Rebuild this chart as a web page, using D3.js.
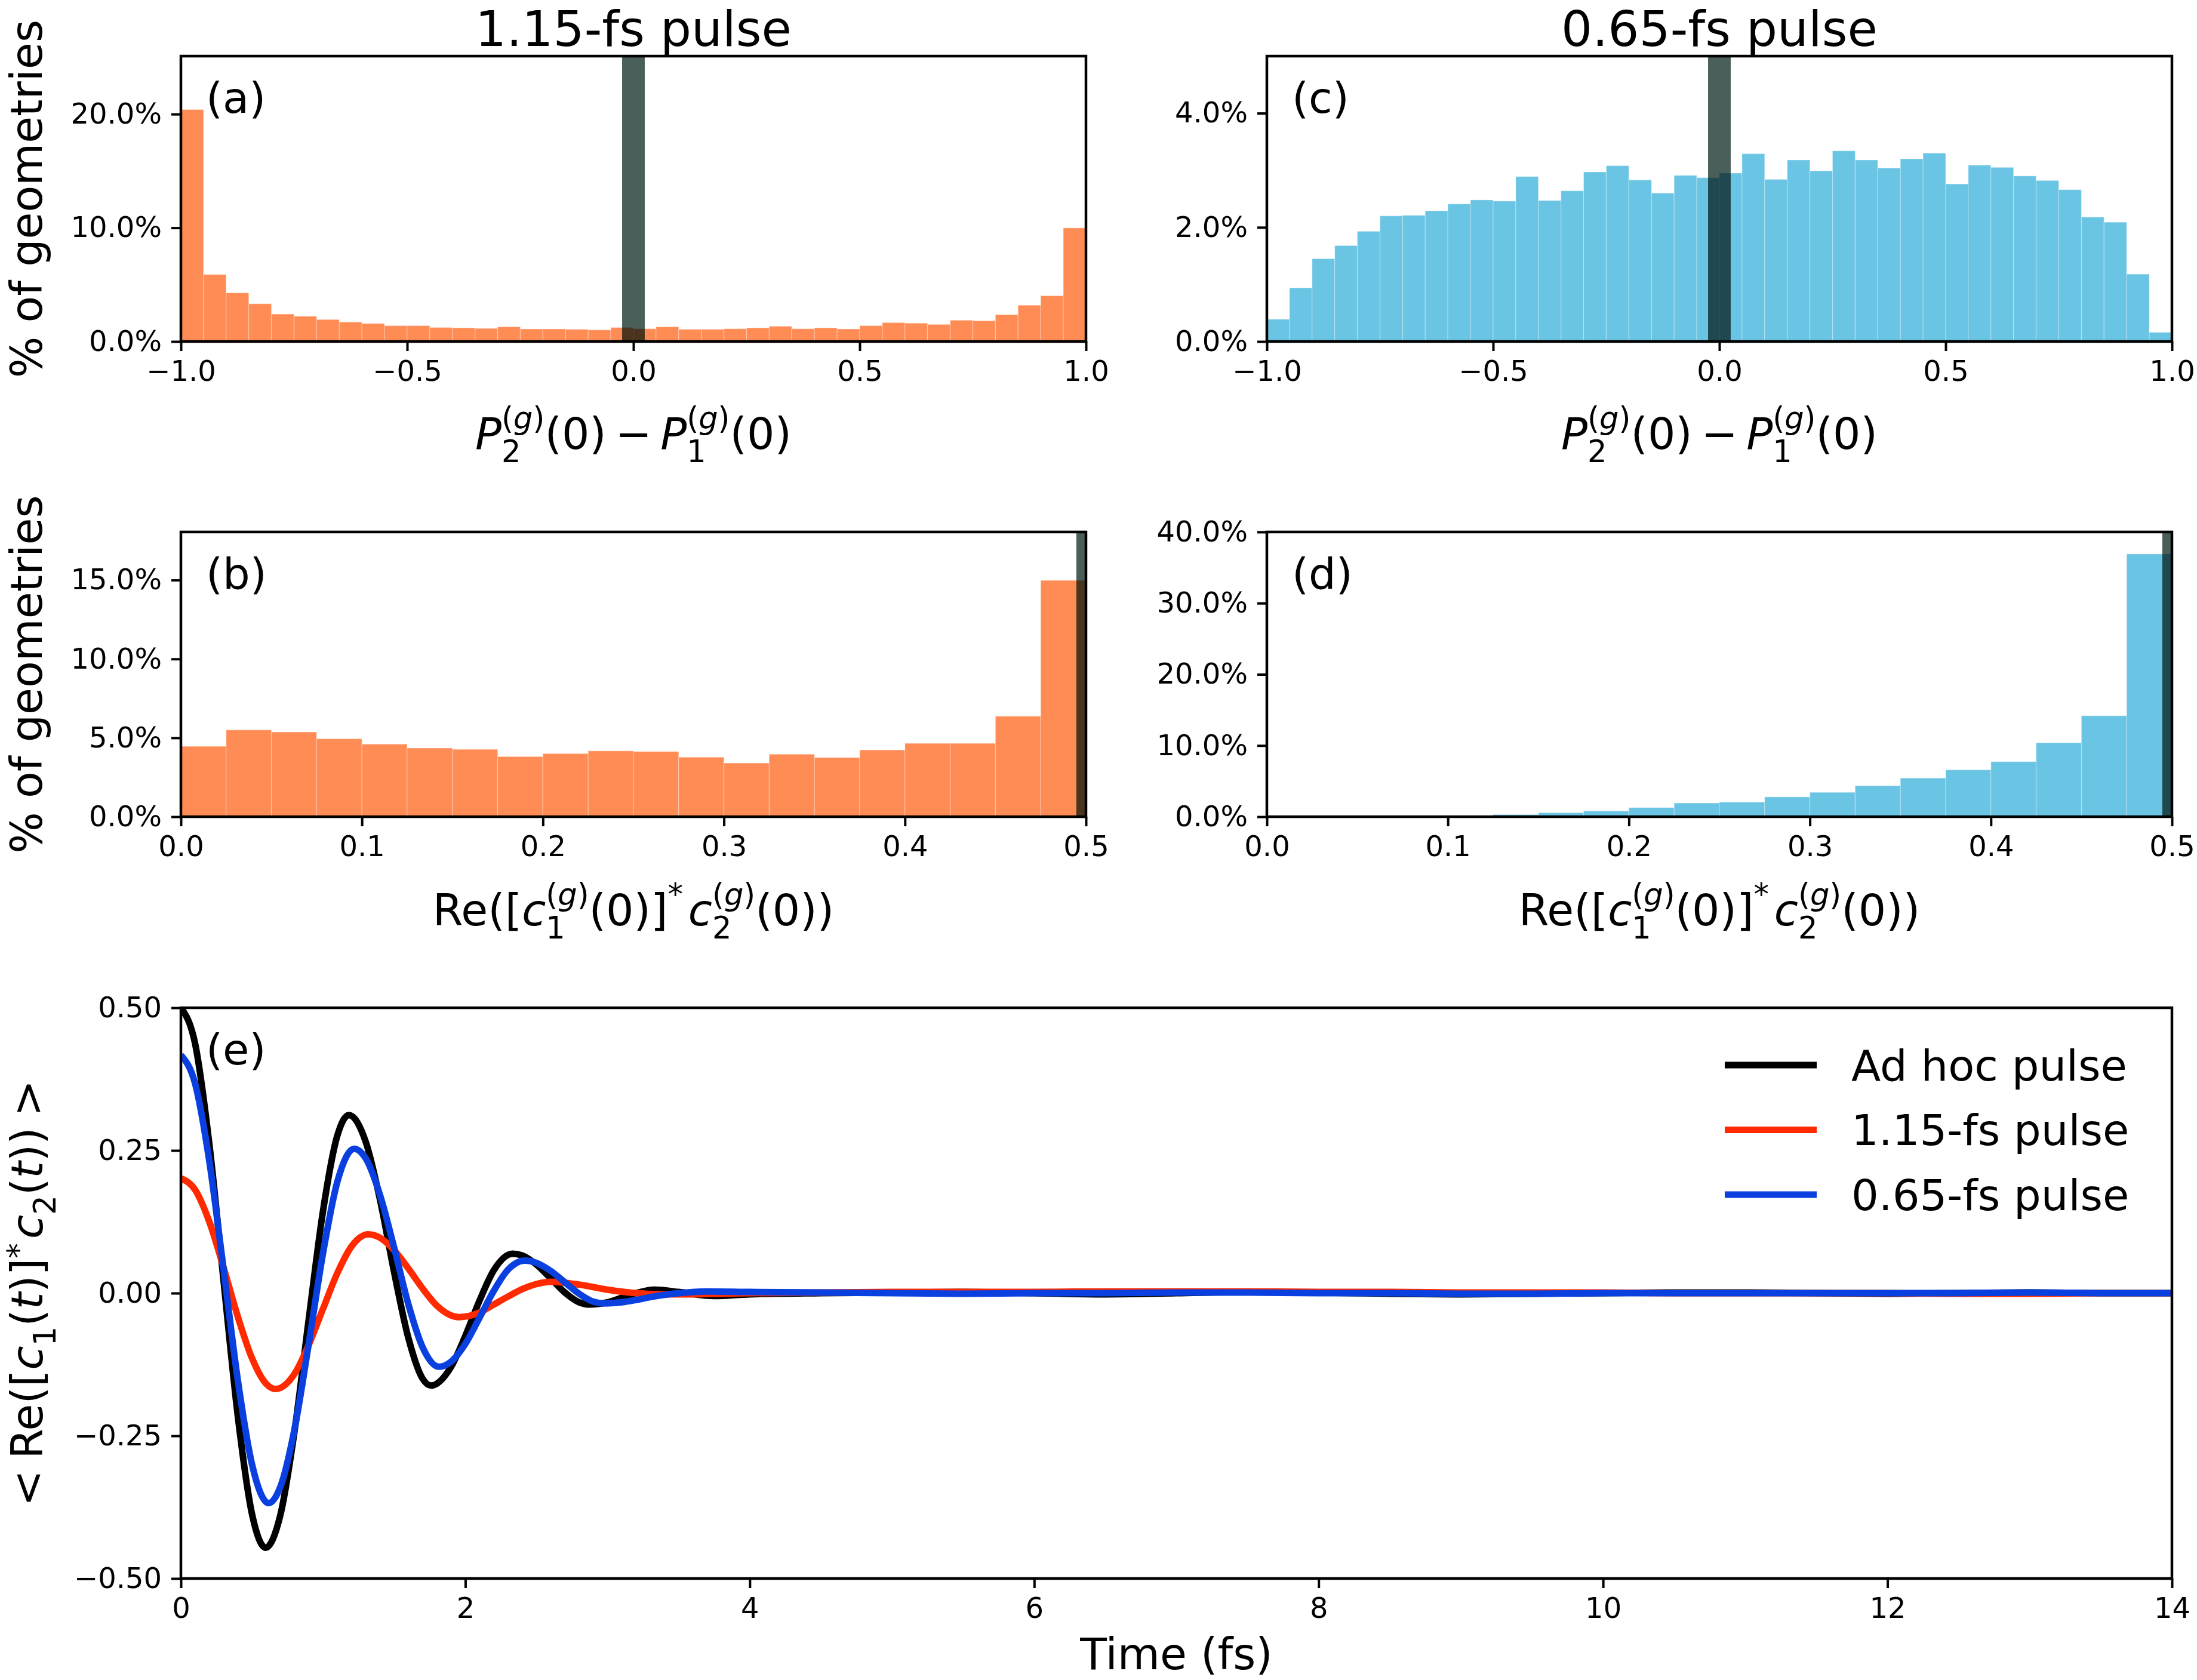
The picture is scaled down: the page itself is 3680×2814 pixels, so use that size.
<!DOCTYPE html>
<meta charset='utf-8'>
<style>
    body { margin: 0; background: #fff; }
    text { font-family: 'DejaVu Sans', sans-serif; fill: #000; }
</style>
<body>
<script src='https://d3js.org/d3.v7.min.js'></script>
<script>
var width = 3680,
    height = 2814;

// histogram values, % of geometries per bin
// (a) 1.15-fs pulse, P2 - P1, 40 bins on [-1, 1]
var popShort = [20.4, 5.89, 4.28, 3.32, 2.41, 2.22, 1.93, 1.71, 1.58, 1.39,
                1.39, 1.23, 1.20, 1.15, 1.29, 1.10, 1.10, 1.07, 1.02, 1.23,
                1.12, 1.29, 1.07, 1.07, 1.12, 1.20, 1.34, 1.12, 1.20, 1.10,
                1.39, 1.66, 1.61, 1.50, 1.87, 1.82, 2.36, 3.19, 4.02, 9.99];
// (c) 0.65-fs pulse, P2 - P1
var popLong = [0.39, 0.94, 1.45, 1.68, 1.93, 2.20, 2.21, 2.29, 2.41, 2.48,
               2.46, 2.89, 2.47, 2.64, 2.97, 3.08, 2.83, 2.60, 2.91, 2.87,
               2.95, 3.29, 2.84, 3.18, 2.99, 3.34, 3.18, 3.04, 3.20, 3.30,
               2.76, 3.09, 3.05, 2.90, 2.82, 2.66, 2.18, 2.09, 1.18, 0.16];
// (b) 1.15-fs pulse, Re(c1* c2), 20 bins on [0, 0.5]
var cohShort = [4.46, 5.50, 5.37, 4.94, 4.60, 4.35, 4.27, 3.81, 4.00, 4.17,
                4.13, 3.77, 3.40, 3.96, 3.75, 4.23, 4.65, 4.65, 6.37, 14.98];
// (d) 0.65-fs pulse, Re(c1* c2)
var cohLong = [0, 0, 0, 0.02, 0.17, 0.30, 0.56, 0.81, 1.28, 1.92,
               2.05, 2.78, 3.42, 4.36, 5.43, 6.58, 7.74, 10.38, 14.19, 36.9];

// ad hoc value marked by the dark band
var bandPop = [-0.025, 0.025];
var bandCoh = [0.4947, 0.5];

var popTicks = [-1.0, -0.5, 0.0, 0.5, 1.0];
var cohTicks = [0.0, 0.1, 0.2, 0.3, 0.4, 0.5];
var yTicksA = [0, 10, 20];
var yTicksC = [0, 2, 4];
var yTicksB = [0, 5, 10, 15];
var yTicksD = [0, 10, 20, 30, 40];

// (e) <Re([c1(t)]* c2(t))> vs time (fs), [t, value]
var adHocPulse = [[0, 0.500], [0.1, 0.437], [0.2, 0.261], [0.3, 0.022], [0.4, -0.215],
    [0.5, -0.387], [0.596, -0.446], [0.7, -0.388], [0.8, -0.240], [0.9, -0.044],
    [1.0, 0.145], [1.1, 0.276], [1.181, 0.312], [1.3, 0.265], [1.4, 0.164],
    [1.5, 0.036], [1.6, -0.079], [1.7, -0.150], [1.758, -0.162], [1.9, -0.129],
    [2.0, -0.075], [2.1, -0.013], [2.2, 0.040], [2.332, 0.069], [2.4, 0.066],
    [2.5, 0.050], [2.6, 0.026], [2.7, 0.001], [2.8, -0.016], [2.877, -0.020],
    [3.0, -0.016], [3.1, -0.008], [3.2, 0.000], [3.33, 0.006], [3.5, 0.002],
    [3.75, -0.005], [4.0, -0.002], [4.5, 0.000], [5.0, 0.001], [5.5, 0.002],
    [6.0, 0.000], [6.5, -0.002], [7.0, 0.000], [7.5, 0.002], [8.0, 0.001],
    [8.5, -0.001], [9.0, -0.002], [9.5, -0.001], [10.0, 0.000], [10.5, 0.001],
    [11.0, 0.001], [11.5, 0.000], [12.0, -0.001], [12.5, 0.000], [13.0, 0.001],
    [13.5, 0.000], [14.0, 0.000]];
var pulse115 = [[0, 0.201], [0.1, 0.181], [0.2, 0.125], [0.3, 0.045], [0.4, -0.041],
    [0.5, -0.114], [0.6, -0.159], [0.666, -0.168], [0.8, -0.141], [0.9, -0.090],
    [1.0, -0.027], [1.1, 0.035], [1.2, 0.082], [1.317, 0.103], [1.4, 0.097],
    [1.5, 0.075], [1.6, 0.043], [1.7, 0.008], [1.8, -0.022], [1.953, -0.042],
    [2.1, -0.034], [2.2, -0.020], [2.3, -0.006], [2.4, 0.007], [2.5, 0.016],
    [2.598, 0.020], [2.8, 0.015], [3.0, 0.006], [3.2, 0.000], [3.4, -0.002],
    [3.6, -0.002], [3.8, -0.001], [4.0, 0.000], [4.5, 0.001], [5.0, 0.002],
    [5.5, 0.002], [6.0, 0.002], [6.5, 0.003], [7.0, 0.003], [7.5, 0.003],
    [8.0, 0.002], [8.5, 0.002], [9.0, 0.001], [9.5, 0.001], [10.0, 0.001],
    [10.5, 0.000], [11.0, 0.000], [11.5, 0.000], [12.0, 0.000], [12.5, -0.001],
    [13.0, -0.001], [13.5, 0.000], [14.0, 0.000]];
var pulse065 = [[0, 0.417], [0.1, 0.367], [0.2, 0.231], [0.3, 0.042], [0.4, -0.152],
    [0.5, -0.300], [0.617, -0.368], [0.7, -0.339], [0.8, -0.237], [0.9, -0.087],
    [1.0, 0.071], [1.1, 0.195], [1.219, 0.253], [1.3, 0.236], [1.4, 0.172],
    [1.5, 0.079], [1.6, -0.020], [1.7, -0.095], [1.814, -0.129], [1.9, -0.120],
    [2.0, -0.089], [2.1, -0.043], [2.2, 0.004], [2.3, 0.041], [2.416, 0.057],
    [2.5, 0.053], [2.6, 0.039], [2.7, 0.019], [2.8, -0.001], [2.9, -0.015],
    [2.975, -0.018], [3.1, -0.016], [3.2, -0.012], [3.3, -0.007], [3.4, -0.003],
    [3.5, 0.000], [3.7, 0.003], [4.0, 0.002], [4.5, 0.001], [5.0, 0.000],
    [5.5, -0.001], [6.0, 0.000], [6.5, 0.000], [7.0, 0.001], [7.5, 0.001],
    [8.0, 0.000], [8.5, 0.000], [9.0, -0.001], [9.5, -0.001], [10.0, 0.000],
    [10.5, 0.000], [11.0, 0.000], [11.5, 0.000], [12.0, 0.000], [12.5, 0.000],
    [13.0, 0.001], [13.5, 0.000], [14.0, 0.000]];
var timeTicks = [0, 2, 4, 6, 8, 10, 12, 14];
var cohTimeTicks = [-0.5, -0.25, 0, 0.25, 0.5];
var seriesNames = ['Ad hoc pulse', '1.15-fs pulse', '0.65-fs pulse'];

var orange = '#ff8c55', skyblue = '#6ac4e3';
var lineColors = ['#000000', '#ff2a00', '#0b40e0'];

var svg = d3.select('body').append('svg')
    .attr('width', width)
    .attr('height', height);
svg.append('rect').attr('width', width).attr('height', height).attr('fill', '#fff');

var tickFont = 48, labelFont = 73;

// one framed axes box with outward ticks
function frame(box, x, y, xt, yt, xfmt, yfmt) {
    var g = svg.append('g');
    var ax = g.append('g').attr('transform', 'translate(0,' + box.bottom + ')')
        .call(d3.axisBottom(x).tickValues(xt).tickFormat(xfmt).tickSize(16).tickPadding(16).tickSizeOuter(0));
    var ay = g.append('g').attr('transform', 'translate(' + box.left + ',0)')
        .call(d3.axisLeft(y).tickValues(yt).tickFormat(yfmt).tickSize(16).tickPadding(16).tickSizeOuter(0));
    [ax, ay].forEach(function(a) {
        a.select('.domain').remove();
        a.selectAll('line').attr('stroke', '#000').attr('stroke-width', 4);
        a.selectAll('text').attr('font-size', tickFont).attr('font-family', 'DejaVu Sans');
    });
    g.append('rect')
        .attr('x', box.left).attr('y', box.top)
        .attr('width', box.right - box.left).attr('height', box.bottom - box.top)
        .attr('fill', 'none').attr('stroke', '#000').attr('stroke-width', 4.5);
}

function minus(s) { return s.replace('-', '\u2212'); }

function histogram(box, domain, values, yMax, color, band, xt, yt, xfmt, tag) {
    var x = d3.scaleLinear().domain(domain).range([box.left, box.right]);
    var y = d3.scaleLinear().domain([0, yMax]).range([box.bottom, box.top]);
    var step = (domain[1] - domain[0]) / values.length;
    svg.append('g').selectAll('rect').data(values).enter().append('rect')
        .attr('x', function(d, i) { return x(domain[0] + i * step); })
        .attr('width', function(d, i) { return x(domain[0] + (i + 1) * step) - x(domain[0] + i * step); })
        .attr('y', function(d) { return y(d); })
        .attr('height', function(d) { return y(0) - y(d); })
        .attr('fill', color)
        .attr('stroke', '#fff').attr('stroke-opacity', 0.25).attr('stroke-width', 1.5);
    svg.append('rect')
        .attr('x', x(band[0])).attr('width', x(band[1]) - x(band[0]))
        .attr('y', box.top).attr('height', box.bottom - box.top)
        .attr('fill', '#4a5e5a')
        .style('mix-blend-mode', 'multiply');
    frame(box, x, y, xt, yt, xfmt, function(d) { return d3.format('.1f')(d) + '%'; });
    svg.append('text').attr('x', box.left + 42).attr('y', box.top + 95)
        .attr('font-size', 72).text(tag);
}

// mathtext-like label made of pieces laid out one after the other
function mathLabel(segs, size) {
    var g = svg.append('g');
    var x = 0;
    function put(str, italic, fs, dy) {
        var t = g.append('text').attr('x', x).attr('y', dy).attr('font-size', fs)
            .style('font-style', italic ? 'italic' : 'normal').text(str);
        return t.node().getComputedTextLength();
    }
    segs.forEach(function(s) {
        if (s.t !== undefined) {
            x += (s.pad || 0) * size;
            x += put(s.t, s.i, size, 0);
            x += (s.pad || 0) * size;
        } else {
            var fs = size * 0.7, x0 = x, w1 = 0, w2 = 0;
            if (s.sub) { w1 = put(s.sub, false, fs, size * 0.3); }
            if (s.sup) {
                x = x0;
                s.sup.forEach(function(p) { x += put(p.t, p.i, fs, -size * (s.up || 0.46)); });
                w2 = x - x0;
            }
            x = x0 + Math.max(w1, w2) + (s.after || 0) * size;
        }
    });
    return { g: g, w: x };
}

function placeLabel(lab, cx, cy, rot) {
    var tr = 'translate(' + cx + ',' + cy + ')' + (rot ? ' rotate(' + rot + ')' : '') +
        ' translate(' + (-lab.w / 2) + ',0)';
    lab.g.attr('transform', tr);
}

var gSup = [{ t: '(' }, { t: 'g', i: 1 }, { t: ')' }];
var popLabel = [{ t: 'P', i: 1 }, { sub: '2', sup: gSup }, { t: '(0)' }, { t: '\u2212', pad: 0.2 },
                { t: 'P', i: 1 }, { sub: '1', sup: gSup }, { t: '(0)' }];
var cohLabel = [{ t: 'Re([' }, { t: 'c', i: 1 }, { sub: '1', sup: gSup }, { t: '(0)]' },
                { sup: [{ t: '*' }], after: 0.12 }, { t: 'c', i: 1 }, { sub: '2', sup: gSup }, { t: '(0))' }];

var boxA = { left: 303, right: 1819, top: 94, bottom: 572 },
    boxC = { left: 2122, right: 3638, top: 94, bottom: 572 },
    boxB = { left: 303, right: 1819, top: 891, bottom: 1368 },
    boxD = { left: 2122, right: 3638, top: 891, bottom: 1368 },
    boxE = { left: 303, right: 3638, top: 1688, bottom: 2644 };

var fmt1 = function(d) { return minus(d3.format('.1f')(d)); };
histogram(boxA, [-1, 1], popShort, 25.1, orange, bandPop, popTicks, yTicksA, fmt1, '(a)');
histogram(boxC, [-1, 1], popLong, 5.0, skyblue, bandPop, popTicks, yTicksC, fmt1, '(c)');
histogram(boxB, [0, 0.5], cohShort, 18.05, orange, bandCoh, cohTicks, yTicksB, fmt1, '(b)');
histogram(boxD, [0, 0.5], cohLong, 40.0, skyblue, bandCoh, cohTicks, yTicksD, fmt1, '(d)');

[[boxA, popLabel, 752], [boxC, popLabel, 752], [boxB, cohLabel, 1550], [boxD, cohLabel, 1550]]
    .forEach(function(p) {
        placeLabel(mathLabel(p[1], labelFont), (p[0].left + p[0].right) / 2, p[2], 0);
    });

[[boxA, '1.15-fs pulse'], [boxC, '0.65-fs pulse']].forEach(function(p) {
    svg.append('text').attr('x', (p[0].left + p[0].right) / 2).attr('y', 77)
        .attr('text-anchor', 'middle').attr('font-size', 82).text(p[1]);
});

[boxA, boxB].forEach(function(b) {
    svg.append('text')
        .attr('transform', 'translate(70,' + (b.top + b.bottom) / 2 + ') rotate(-90)')
        .attr('text-anchor', 'middle').attr('font-size', labelFont).text('% of geometries');
});

// (e) time traces
var xt = d3.scaleLinear().domain([0, 14]).range([boxE.left, boxE.right]);
var yc = d3.scaleLinear().domain([-0.5, 0.5]).range([boxE.bottom, boxE.top]);
svg.append('clipPath').attr('id', 'clipE').append('rect')
    .attr('x', boxE.left).attr('y', boxE.top)
    .attr('width', boxE.right - boxE.left).attr('height', boxE.bottom - boxE.top);
var line = d3.line().x(function(d) { return xt(d[0]); }).y(function(d) { return yc(d[1]); })
    .curve(d3.curveMonotoneX);
var traces = svg.append('g').attr('clip-path', 'url(#clipE)');
[adHocPulse, pulse115, pulse065].forEach(function(s, i) {
    traces.append('path').datum(s).attr('d', line)
        .attr('fill', 'none').attr('stroke', lineColors[i])
        .attr('stroke-width', 11).attr('stroke-linejoin', 'round');
});
frame(boxE, xt, yc, timeTicks, cohTimeTicks, d3.format('d'),
    function(d) { return minus(d3.format('.2f')(d)); });
svg.append('text').attr('x', boxE.left + 42).attr('y', boxE.top + 95)
    .attr('font-size', 72).text('(e)');

svg.append('text').attr('x', (boxE.left + boxE.right) / 2).attr('y', 2796)
    .attr('text-anchor', 'middle').attr('font-size', labelFont).text('Time (fs)');

var eLabel = [{ t: '<', pad: 0.25 }, { t: 'Re([' }, { t: 'c', i: 1 }, { sub: '1' }, { t: '(' },
              { t: 't', i: 1 }, { t: ')]' }, { sup: [{ t: '*' }], up: 0.3, after: 0.1 }, { t: 'c', i: 1 }, { sub: '2' },
              { t: '(' }, { t: 't', i: 1 }, { t: '))' }, { t: '>', pad: 0.25 }];
placeLabel(mathLabel(eLabel, labelFont), 71, (boxE.top + boxE.bottom) / 2, -90);

// legend
var legend = svg.append('g');
seriesNames.forEach(function(name, i) {
    var ly = 1784 + i * 108.5;
    legend.append('line').attr('x1', 2889).attr('x2', 3043).attr('y1', ly).attr('y2', ly)
        .attr('stroke', lineColors[i]).attr('stroke-width', 11);
    legend.append('text').attr('x', 3101).attr('y', ly).attr('dy', '0.36em')
        .attr('font-size', 72).text(name);
});
</script>
</body>
